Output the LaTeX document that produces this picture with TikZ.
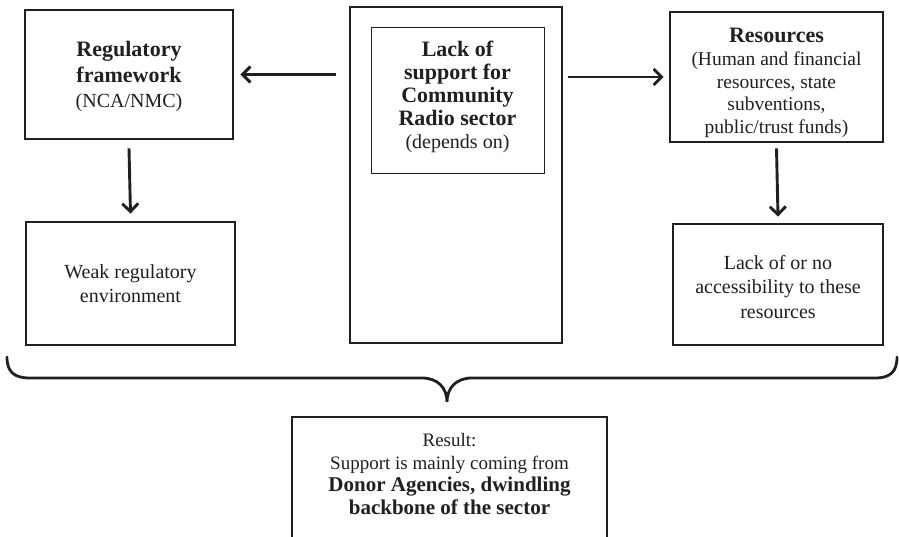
\documentclass[tikz,border=0pt]{standalone}
\usepackage{fontspec}
\setmainfont{Liberation Serif}
\usetikzlibrary{arrows.meta}
\definecolor{ink}{HTML}{231F20}
\newcommand{\bsz}{\fontsize{22pt}{24pt}\selectfont\bfseries}
\begin{document}
\begin{tikzpicture}[x=1pt,y=-1pt,
  every node/.style={text=ink, align=center, inner sep=0pt},
  box/.style={draw=ink, line width=2.8pt, rectangle},
  thinbox/.style={draw=ink, line width=0.9pt, rectangle},
  arr/.style={draw=ink, line width=2.9pt, -{Straight Barb[length=8pt,width=16pt]}},
  bracestyle/.style={draw=ink, line width=2.8pt, line cap=round}]
\useasboundingbox (0,0) rectangle (899,537);
\fill[white] (0,0) rectangle (899,537);

% left column
\node[box, minimum width=208pt, minimum height=129pt] (reg) at (129,74.5) {};
\node[font=\fontsize{20pt}{25.5pt}\selectfont] (regtext) at ([yshift=-2pt]reg.center)
  {{\bsz Regulatory}\\{\bsz framework}\\(NCA/NMC)};
\node[box, minimum width=209pt, minimum height=123pt,
  font=\fontsize{20pt}{24pt}\selectfont] (weak) at (130.5,283.5)
  {Weak regulatory\\environment};

% centre column
\node[box, minimum width=212pt, minimum height=336pt] (cbox) at (456,175) {};
\node[thinbox, minimum width=173pt, minimum height=146pt] (inner) at (457.5,100) {};
\node[font=\fontsize{20pt}{23pt}\selectfont] (ctext) at (457.5,97)
  {{\bsz Lack of}\\{\bsz support for}\\{\bsz Community}\\{\bsz Radio sector}\\(depends on)};

% right column
\node[box, minimum width=213pt, minimum height=130pt] (res) at (776.5,77) {};
\node[font=\fontsize{19.5pt}{22.6pt}\selectfont] (restext) at ([yshift=-6pt]res.center)
  {{\bsz Resources}\\(Human and financial\\resources, state\\subventions,\\public/trust funds)};
\node[box, minimum width=210pt, minimum height=121pt] (lack) at (778,284.5) {};
\node[font=\fontsize{20pt}{24.5pt}\selectfont] (lacktext) at ([yshift=-2.5pt]lack.center)
  {Lack of or no\\accessibility to these\\resources};

% arrows
\draw[arr] ([xshift=-13pt]cbox.west |- reg.east) -- ([xshift=6pt]reg.east);
\draw[arr] ([xshift=5pt]cbox.east |- res.west) -- ([xshift=-5pt]res.west);
\draw[arr] ([yshift=-8pt]reg.south) -- ([yshift=7pt]weak.north);
\draw[arr] ([yshift=-5pt]res.south) -- ([yshift=6pt]lack.north);

% brace
\coordinate (bl) at (7,357);
\coordinate (bm) at (447,402);
\coordinate (br) at (897,357);
\draw[bracestyle] (bl) .. controls (7,372) and (14,378) .. (30,378) -- (422,378)
  .. controls (438,378) and (447,388) .. (bm)
  .. controls (447,388) and (456,378) .. (472,378) -- (875,378)
  .. controls (890,378) and (897,372) .. (br);

% result box (bottom edge lies below the picture)
\begin{scope}
\clip (0,0) rectangle (899,537);
\node[box, minimum width=315pt, minimum height=134pt] (result) at (449.5,484) {};
\end{scope}
\node[font=\fontsize{19pt}{22.7pt}\selectfont] (rtext) at (449.5,474)
  {Result:\\Support is mainly coming from\\
   {\fontsize{21pt}{23pt}\selectfont\bfseries Donor Agencies, dwindling}\\
   {\fontsize{21pt}{23pt}\selectfont\bfseries backbone of the sector}};
\end{tikzpicture}
\end{document}
